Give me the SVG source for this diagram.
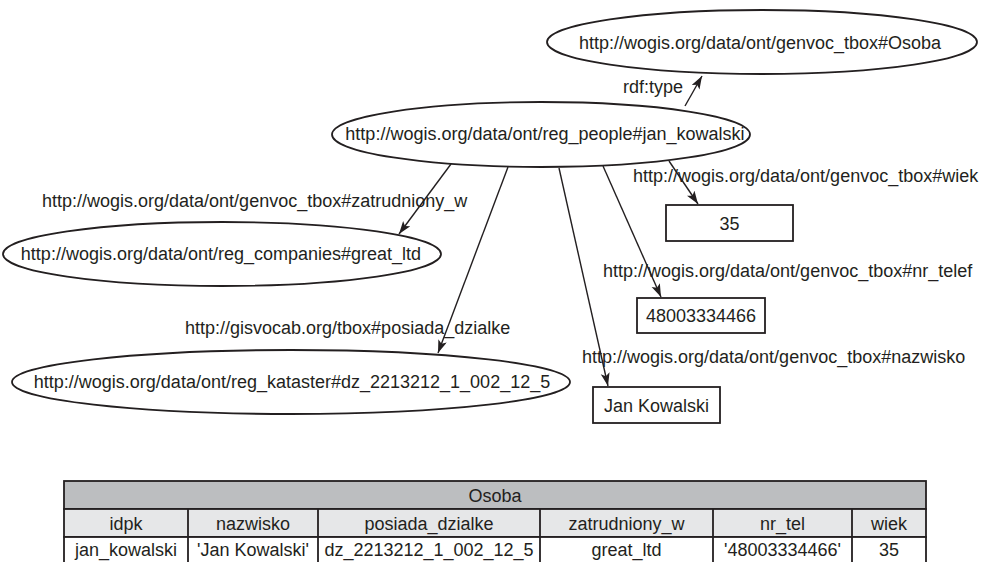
<svg xmlns="http://www.w3.org/2000/svg" width="982" height="562" viewBox="0 0 982 562">
  <style>
    text { font-family: "Liberation Sans", Arial, sans-serif; font-size: 18px; fill: #231f20; }
    .mid { text-anchor: middle; }
    .node { fill: #ffffff; stroke: #231f20; stroke-width: 1.8; }
    .edge { fill: none; stroke: #231f20; stroke-width: 1.4; marker-end: url(#arrow); }
    .cell { stroke: #231f20; stroke-width: 1.8; }
    .title { fill: #bcbec0; }
    .head { fill: #e6e7e8; }
    .data { fill: #ffffff; }
  </style>
  <defs>
    <marker id="arrow" markerUnits="userSpaceOnUse" markerWidth="14" markerHeight="10" refX="13" refY="4.5" orient="auto">
      <path d="M0,0 L13,4.5 L0,9 L3,4.5 z" fill="#231f20"/>
    </marker>
  </defs>

  <rect width="982" height="562" fill="#ffffff"/>

  <!-- connectors -->
  <g id="edges">
    <line class="edge" x1="685" y1="106" x2="702" y2="76"/>
    <line class="edge" x1="451" y1="164" x2="399" y2="234"/>
    <line class="edge" x1="508" y1="167" x2="438" y2="353"/>
    <line class="edge" x1="559" y1="168" x2="608" y2="386"/>
    <line class="edge" x1="603" y1="166" x2="661" y2="297"/>
    <line class="edge" x1="669" y1="161" x2="698" y2="204"/>
    <text x="623" y="93">rdf:type</text>
    <text x="42" y="207">http://wogis.org/data/ont/genvoc_tbox#zatrudniony_w</text>
    <text x="185" y="334">http://gisvocab.org/tbox#posiada_dzialke</text>
    <text x="633" y="182">http://wogis.org/data/ont/genvoc_tbox#wiek</text>
    <text x="603" y="277">http://wogis.org/data/ont/genvoc_tbox#nr_telef</text>
    <text x="582" y="363">http://wogis.org/data/ont/genvoc_tbox#nazwisko</text>
  </g>

  <!-- resources -->
  <g id="osoba">
    <ellipse class="node" cx="762" cy="42" rx="215" ry="32"/>
    <text class="mid" x="760" y="49">http://wogis.org/data/ont/genvoc_tbox#Osoba</text>
  </g>
  <g id="jan_kowalski">
    <ellipse class="node" cx="541" cy="134.5" rx="209" ry="32.5"/>
    <text class="mid" x="545" y="140">http://wogis.org/data/ont/reg_people#jan_kowalski</text>
  </g>
  <g id="great_ltd">
    <ellipse class="node" cx="222" cy="254" rx="219" ry="32"/>
    <text class="mid" x="221" y="260">http://wogis.org/data/ont/reg_companies#great_ltd</text>
  </g>
  <g id="dzialka">
    <ellipse class="node" cx="291" cy="382" rx="279" ry="32"/>
    <text class="mid" x="292" y="388">http://wogis.org/data/ont/reg_kataster#dz_2213212_1_002_12_5</text>
  </g>

  <!-- literals -->
  <g id="wiek">
    <rect class="node" x="666" y="205" width="127" height="36"/>
    <text class="mid" x="729.5" y="229.5">35</text>
  </g>
  <g id="nr_telef">
    <rect class="node" x="637" y="298" width="128" height="35"/>
    <text class="mid" x="701" y="322">48003334466</text>
  </g>
  <g id="nazwisko">
    <rect class="node" x="593" y="387" width="127" height="36"/>
    <text class="mid" x="656.5" y="411.5">Jan Kowalski</text>
  </g>

  <!-- relational table -->
  <g id="table">
    <rect class="cell title" x="64" y="481" width="862" height="28"/>
    <rect class="cell head" x="64" y="509" width="862" height="28"/>
    <rect class="cell data" x="64" y="537" width="862" height="30"/>
    <line class="cell" x1="188" y1="509" x2="188" y2="567"/>
    <line class="cell" x1="318" y1="509" x2="318" y2="567"/>
    <line class="cell" x1="540" y1="509" x2="540" y2="567"/>
    <line class="cell" x1="713" y1="509" x2="713" y2="567"/>
    <line class="cell" x1="852" y1="509" x2="852" y2="567"/>
    <text class="mid" x="495" y="501.5">Osoba</text>
    <text class="mid" x="126" y="530">idpk</text>
    <text class="mid" x="253" y="530">nazwisko</text>
    <text class="mid" x="429" y="530">posiada_dzialke</text>
    <text class="mid" x="626.5" y="530">zatrudniony_w</text>
    <text class="mid" x="782.5" y="530">nr_tel</text>
    <text class="mid" x="889" y="530">wiek</text>
    <text class="mid" x="126" y="555.5">jan_kowalski</text>
    <text class="mid" x="253" y="555.5">'Jan Kowalski'</text>
    <text class="mid" x="429" y="555.5">dz_2213212_1_002_12_5</text>
    <text class="mid" x="626.5" y="555.5">great_ltd</text>
    <text class="mid" x="782.5" y="555.5">'48003334466'</text>
    <text class="mid" x="889" y="555.5">35</text>
  </g>
</svg>
